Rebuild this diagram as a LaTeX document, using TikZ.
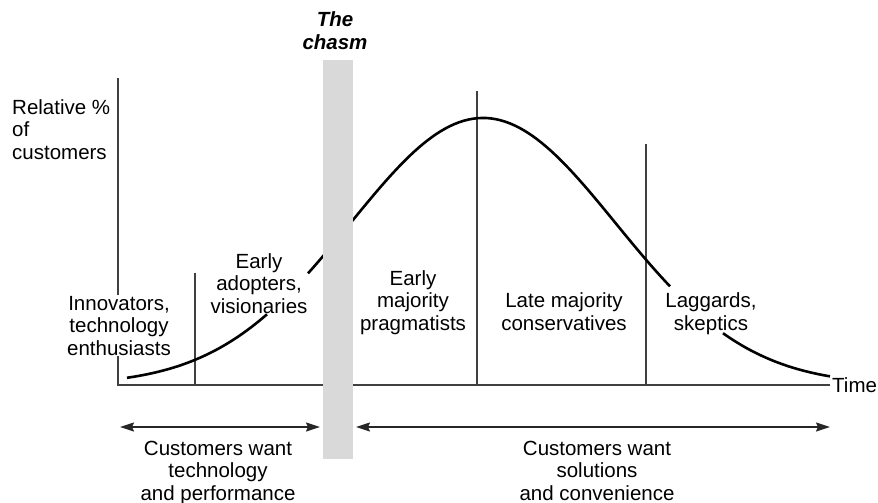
\documentclass[tikz,border=0pt]{standalone}
\usepackage{fontspec}
\setmainfont{Liberation Sans}
\usetikzlibrary{arrows.meta}
\tikzset{
  lbl/.style={align=center,anchor=base,inner sep=0pt},
  rule/.style={draw=black!75,line width=1.2pt},
  bell/.style={draw=black,line width=2.6pt},
  span/.style={{Stealth[length=14pt,width=9pt,inset=2pt]}-{Stealth[length=14pt,width=9pt,inset=2pt]},line width=1.5pt,draw=black!85}
}
\begin{document}
\begin{tikzpicture}[x=1pt,y=-1pt,font=\fontsize{20.5}{22.5}\selectfont]
\useasboundingbox (0,0) rectangle (878,503);
\pgfmathsetmacro{\peak}{483}
\pgfmathsetmacro{\spread}{132.5}
\pgfmathsetmacro{\amp}{267}
\pgfmathsetmacro{\base}{385}
\draw[rule] (118,78)--(118,\base)--(830,\base);
\draw[rule] (195,273)--(195,\base);
\draw[rule] (477,91)--(477,\base);
\draw[rule] (646,144)--(646,\base);
\draw[bell] plot[domain=127:267,samples=40] (\x,{\base-\amp*exp(-0.5*((\x-\peak)/\spread)^2)});
\draw[bell] plot[domain=308:670,samples=80] (\x,{\base-\amp*exp(-0.5*((\x-\peak)/\spread)^2)});
\draw[bell] plot[domain=723:830,samples=30] (\x,{\base-\amp*exp(-0.5*((\x-\peak)/\spread)^2)});
\fill[black!15] (323,60) rectangle (353,459);
\node[lbl,font=\fontsize{20.5}{23}\selectfont\bfseries\itshape] (chasm) at (335,50) {The\\chasm};
\node[lbl,align=left,anchor=base west] (ylabel) at (12,159) {Relative \%\\of\\customers};
\node[lbl,fill=white,inner sep=1pt] (innov) at (119,355) {Innovators,\\technology\\enthusiasts};
\node[lbl] (early) at (259,313) {Early\\adopters,\\visionaries};
\node[lbl] (prag) at (413,330) {Early\\majority\\pragmatists};
\node[lbl] (late) at (564,330) {Late majority\\conservatives};
\node[lbl] (lagg) at (711,330) {Laggards,\\skeptics};
\node[anchor=west,inner sep=0pt] (time) at (832,385) {Time};
\coordinate (techL) at (120,427);
\coordinate (techR) at (320,427);
\coordinate (soluL) at (356,427);
\coordinate (soluR) at (830,427);
\draw[span] (techL)--(techR);
\draw[span] (soluL)--(soluR);
\node[lbl] (wanttech) at (218,500) {Customers want\\technology\\and performance};
\node[lbl] (wantsolu) at (597,500) {Customers want\\solutions\\and convenience};
\end{tikzpicture}
\end{document}
